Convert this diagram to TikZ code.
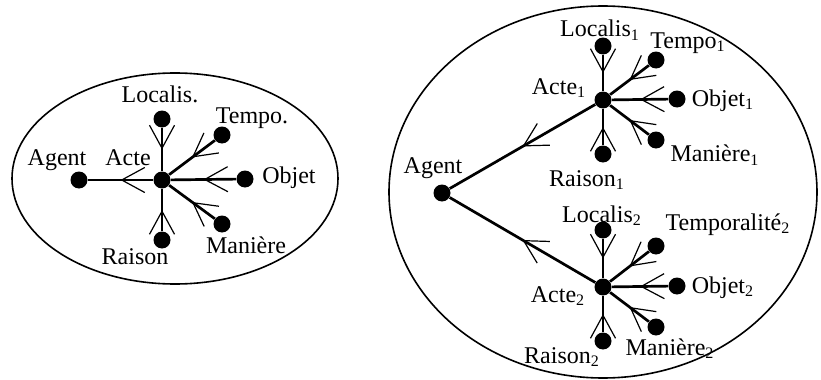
\documentclass[tikz,border=0pt]{standalone}
\usepackage{fontspec}
\setmainfont{Liberation Serif}
\usetikzlibrary{arrows.meta,decorations.markings}

\tikzset{
  dot/.style={circle,fill,inner sep=0pt,minimum size=8.5pt},
  lbl/.style={anchor=base,inner sep=0pt,font=\fontsize{12}{14}\selectfont},
  link/.style={line width=1.35pt,postaction={decorate},
    decoration={markings,mark=at position 0.5 with
      {\arrow{Straight Barb[length=11.5pt,width=12.5pt,line width'=0.6pt]}}}}
}

\begin{document}
\begin{tikzpicture}[x=0.5pt,y=-0.5pt]
        \useasboundingbox (0,0) rectangle (821,380);
        % ellipses
        \draw[line width=0.8pt] (175,178.5) ellipse [x radius=163, y radius=105.5];
        \draw[line width=0.8pt] (603,192) ellipse [x radius=214, y radius=186];
        % left tree
        \node[dot] (acte) at (162,180) {};
        \node[dot] (agent) at (79,180) {};
        \node[dot] (localis) at (162,119) {};
        \node[dot] (tempo) at (222,135) {};
        \node[dot] (objet) at (245,179) {};
        \node[dot] (maniere) at (222,224) {};
        \node[dot] (raison) at (162,240) {};
        \draw[link] (acte) -- (agent);
        \foreach \n in {localis,tempo,objet,maniere,raison}
            \draw[link] (\n) -- (acte);
        \node[lbl] (t-agent) at (57,165) {Agent};
        \node[lbl] (t-acte) at (128,165) {Acte};
        \node[lbl] (t-localis) at (160,103) {Localis.};
        \node[lbl] (t-tempo) at (252,123) {Tempo.};
        \node[lbl] (t-objet) at (289,184) {Objet};
        \node[lbl] (t-maniere) at (246,253) {Manière};
        \node[lbl] (t-raison) at (135,264) {Raison};
        % right trees
        \node[dot] (agentR) at (442,193) {};
        \node[dot] (acte1) at (603,100) {};
        \node[dot] (localis1) at (603,46) {};
        \node[dot] (tempo1) at (656,60) {};
        \node[dot] (objet1) at (677,99) {};
        \node[dot] (maniere1) at (656,140) {};
        \node[dot] (raison1) at (603,154) {};
        \node[dot] (acte2) at (603,287) {};
        \node[dot] (localis2) at (603,230) {};
        \node[dot] (tempo2) at (656,246) {};
        \node[dot] (objet2) at (677,286) {};
        \node[dot] (maniere2) at (656,327) {};
        \node[dot] (raison2) at (603,341) {};
        \draw[link] (acte1) -- (agentR);
        \draw[link] (acte2) -- (agentR);
        \foreach \n in {localis,tempo,objet,maniere,raison} {
            \draw[link] (\n1) -- (acte1);
            \draw[link] (\n2) -- (acte2);
        }
        \node[lbl] (t-agentR) at (433,173) {Agent};
        \node[lbl] (t-acte1) at (559,94) {Acte\textsubscript{1}};
        \node[lbl] (t-localis1) at (600,37) {Localis\textsubscript{1}};
        \node[lbl] (t-tempo1) at (688,48) {Tempo\textsubscript{1}};
        \node[lbl] (t-objet1) at (723,106) {Objet\textsubscript{1}};
        \node[lbl] (t-maniere1) at (715,162) {Manière\textsubscript{1}};
        \node[lbl] (t-raison1) at (587,186) {Raison\textsubscript{1}};
        \node[lbl] (t-acte2) at (558,302) {Acte\textsubscript{2}};
        \node[lbl] (t-localis2) at (602,222) {Localis\textsubscript{2}};
        \node[lbl] (t-tempo2) at (728,230) {Temporalité\textsubscript{2}};
        \node[lbl] (t-objet2) at (723,293) {Objet\textsubscript{2}};
        \node[lbl] (t-maniere2) at (670,355) {Manière\textsubscript{2}};
        \node[lbl] (t-raison2) at (562,363) {Raison\textsubscript{2}};
\end{tikzpicture}
\end{document}
